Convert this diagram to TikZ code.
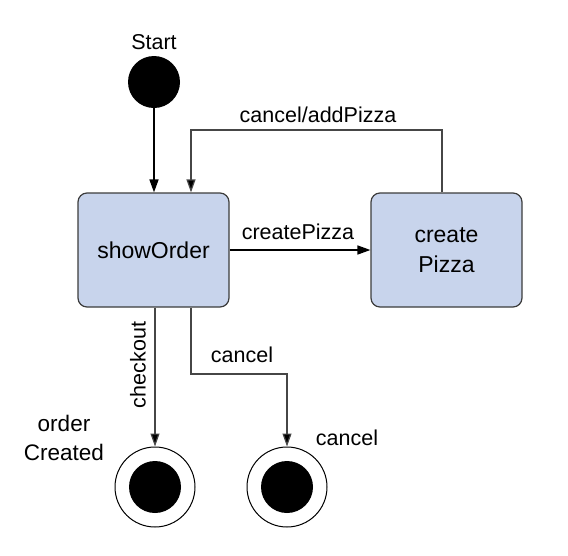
\documentclass[tikz,border=0pt]{standalone}
\usepackage{fontspec}
\setmainfont{Liberation Sans}
\usetikzlibrary{arrows.meta}
\definecolor{boxfill}{RGB}{200,212,236}
\definecolor{boxline}{RGB}{60,60,60}
\definecolor{conn}{RGB}{70,70,70}
\begin{document}
\begin{tikzpicture}[x=1pt,y=-1pt,
  lbl/.style={font=\fontsize{21.5}{26}\selectfont, inner sep=0pt},
  statebox/.style={draw=boxline, line width=1.2pt, fill=boxfill, rounded corners=9pt,
    minimum width=151pt, minimum height=114pt, align=center, inner sep=0pt,
    font=\fontsize{23}{30}\selectfont},
  initst/.style={circle, fill=black, minimum size=52pt, inner sep=0pt},
  finalouter/.style={circle, draw=black, line width=1pt, fill=white, minimum size=80pt, inner sep=0pt},
  finalinner/.style={circle, fill=black, minimum size=52pt, inner sep=0pt},
  tr/.style={draw=conn, line width=1.2pt, -{Triangle[length=13pt,width=9pt,fill=black]}},
  trb/.style={draw=black, line width=1.6pt, -{Triangle[length=13pt,width=9pt,fill=black]}}
]
\useasboundingbox (0,0) rectangle (568,555);
\node[initst] (start) at (154,82) {};
\node[lbl] (startlbl) at (154,42) {Start};
\node[statebox] (show) at (153.5,250) {showOrder};
\node[statebox] (create) at (446.5,250) {create\\Pizza};
\node[finalouter] (end1) at (155,487) {};
\node[finalinner] (end1i) at (155,487) {};
\node[finalouter] (end2) at (287,487) {};
\node[finalinner] (end2i) at (287,487) {};

\coordinate (c1) at (442,130);
\coordinate (c2) at (191,130);
\coordinate (c3) at (191,374);
\coordinate (c4) at (287,374);

\draw[trb] (start) -- (start |- show.north);
\draw[trb] (show.east) -- (create.west);
\draw[tr] (create.north -| c1) -- (c1) -- (c2) -- (c2 |- show.north);
\draw[tr] (show.south -| end1) -- (end1.north);
\draw[tr] (show.south -| c3) -- (c3) -- (c4) -- (end2.north);

\node[lbl] (l1) at (318,115) {cancel/addPizza};
\node[lbl] (l2) at (298,232) {createPizza};
\node[lbl, rotate=90] (l3) at (138,365) {checkout};
\node[lbl] (l4) at (242,355) {cancel};
\node[lbl, align=center, font=\fontsize{22.5}{29}\selectfont] (l5) at (64,438) {order\\Created};
\node[lbl] (l6) at (347,438) {cancel};
\end{tikzpicture}
\end{document}
